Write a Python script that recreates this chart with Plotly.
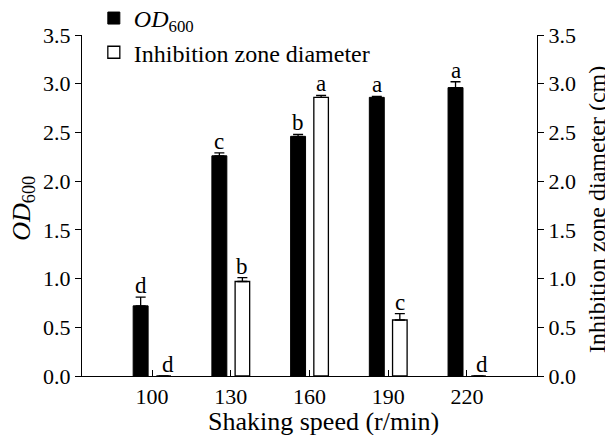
import plotly.graph_objects as go

speeds = ["100", "130", "160", "190", "220"]
od600 = [0.72, 2.26, 2.46, 2.86, 2.96]
od600_err = [0.09, 0.03, 0.02, 0.01, 0.06]
od600_letters = ["d", "c", "b", "a", "a"]
inhib = [0.0, 0.97, 2.86, 0.575, 0.0]
inhib_err = [0.0, 0.04, 0.02, 0.065, 0.0]
inhib_letters = ["d", "b", "a", "c", "d"]
y_ticks = [0.0, 0.5, 1.0, 1.5, 2.0, 2.5, 3.0, 3.5]
x_title = "Shaking speed (r/min)"
y1_title = "<i>OD</i><sub>600</sub>"
y2_title = "Inhibition zone diameter (cm)"

FONT = "Liberation Serif, Times New Roman, serif"
FS_TICK = 22
FS_XT = 26
FS_Y1T = 26
FS_Y2T = 24
FS_LEG = 24
FS_LET = 23
xs = list(range(len(speeds)))
W1, OFF1 = 0.19, -0.24
W2, OFF2 = 0.185, 0.055

# the page body adds an 8px offset; margins compensate for it
PAGE_OFF = 8

fig = go.Figure()
fig.add_trace(go.Bar(
    x=xs, y=od600, name="<i>OD</i><sub>600</sub>",
    width=W1, offset=OFF1,
    marker=dict(color="black", line=dict(color="black", width=1)),
    error_y=dict(type="data", symmetric=False,
                 array=[e if e > 0 else None for e in od600_err],
                 arrayminus=[0] * len(od600), color="black", thickness=1.3, width=5),
    yaxis="y", legendgroup="a",
))
fig.add_trace(go.Bar(
    x=xs, y=inhib, name="Inhibition zone diameter",
    width=W2, offset=OFF2,
    marker=dict(color="white", line=dict(color="black", width=1.3)),
    error_y=dict(type="data", symmetric=False,
                 array=[e if e > 0 else None for e in inhib_err],
                 arrayminus=[0] * len(inhib), color="black", thickness=1.3, width=5),
    yaxis="y2", legendgroup="b",
))

for i in xs:
    fig.add_annotation(x=i + OFF1 + W1 / 2, y=od600[i] + od600_err[i], text=od600_letters[i],
                       xref="x", yref="y", showarrow=False, yanchor="bottom", yshift=-3,
                       font=dict(family=FONT, size=FS_LET, color="black"))
    fig.add_annotation(x=i + OFF2 + W2 / 2 + (0.05 if inhib[i] == 0 else 0),
                       y=inhib[i] + inhib_err[i], text=inhib_letters[i],
                       xref="x", yref="y2", showarrow=False, yanchor="bottom", yshift=-3,
                       font=dict(family=FONT, size=FS_LET, color="black"))

# axis titles
fig.add_annotation(x=0.531, y=-0.134, xref="paper", yref="paper", text=x_title,
                   showarrow=False, xanchor="center", yanchor="middle",
                   font=dict(family=FONT, size=FS_XT, color="black"))
fig.add_annotation(x=-0.13, y=0.493, xref="paper", yref="paper", text=y1_title,
                   showarrow=False, xanchor="center", yanchor="middle", textangle=-90,
                   font=dict(family=FONT, size=FS_Y1T, color="black"))
fig.add_annotation(x=1.132, y=0.487, xref="paper", yref="paper", text=y2_title,
                   showarrow=False, xanchor="center", yanchor="middle", textangle=-90,
                   font=dict(family=FONT, size=FS_Y2T, color="black"))

axis_common = dict(range=[0, 3.5], tickvals=y_ticks, ticktext=[f"{v:.1f}" for v in y_ticks],
                   showline=True, linecolor="black", linewidth=1.3, ticks="outside",
                   ticklen=6, tickwidth=1.3, tickcolor="black", showgrid=False, zeroline=False,
                   tickfont=dict(family=FONT, size=FS_TICK, color="black"))

fig.update_layout(
    width=613, height=435,
    margin=dict(l=82 - PAGE_OFF, r=76 + PAGE_OFF, t=35 - PAGE_OFF, b=59 + PAGE_OFF,
                autoexpand=False),
    paper_bgcolor="white", plot_bgcolor="white",
    font=dict(family=FONT, size=FS_TICK, color="black"),
    showlegend=True,
    legend=dict(x=0.026, y=1.1145, xanchor="left", yanchor="top", bgcolor="rgba(0,0,0,0)",
                font=dict(family=FONT, size=FS_LEG), tracegroupgap=0, itemwidth=30),
    xaxis=dict(range=[-0.89, 4.89], tickvals=xs, ticktext=speeds, showline=True,
               linecolor="black", linewidth=1.3, ticks="inside", ticklen=6, tickwidth=1.3,
               tickcolor="black", showgrid=False, zeroline=False,
               tickfont=dict(family=FONT, size=FS_TICK, color="black")),
    yaxis=dict(**axis_common, side="left"),
    yaxis2=dict(**axis_common, side="right", overlaying="y"),
)

fig.write_html("out.html")
